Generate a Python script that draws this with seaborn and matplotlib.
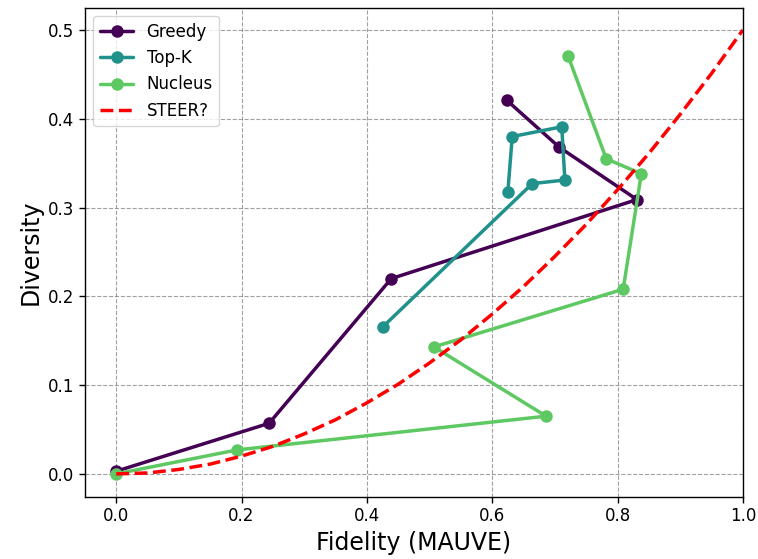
import matplotlib
matplotlib.use("Agg")
import matplotlib.pyplot as plt
import seaborn as sns
import pandas as pd

# values
greedy_x = [0.0, 0.244, 0.439, 0.831, 0.707, 0.623]
greedy_y = [0.003, 0.057, 0.220, 0.309, 0.368, 0.421]

topk_x = [0.426, 0.664, 0.716, 0.711, 0.632, 0.625]
topk_y = [0.166, 0.327, 0.331, 0.391, 0.380, 0.318]

nucleus_x = [0.0, 0.193, 0.686, 0.507, 0.809, 0.838, 0.782, 0.721]
nucleus_y = [0.0, 0.027, 0.065, 0.143, 0.208, 0.338, 0.355, 0.471]

steer_x = [0.0, 0.05, 0.1, 0.15, 0.2, 0.25, 0.3, 0.35, 0.4, 0.45, 0.5,
           0.55, 0.6, 0.65, 0.7, 0.75, 0.8, 0.85, 0.9, 0.95, 1.0]
steer_y = [0.0, 0.001, 0.005, 0.011, 0.020, 0.031, 0.045, 0.061, 0.080, 0.101, 0.125,
           0.151, 0.180, 0.211, 0.245, 0.281, 0.320, 0.361, 0.405, 0.451, 0.500]

sns.set_theme(style="ticks")
plt.rcParams['font.family'] = ['DejaVu Sans']
plt.rcParams['text.color'] = 'black'
plt.rcParams['axes.labelcolor'] = 'black'

fig, ax = plt.subplots(figsize=(7.58, 5.59), dpi=100)
fig.subplots_adjust(left=0.112, right=0.980, top=0.986, bottom=0.111)

series = [
    ("Greedy", greedy_x, greedy_y, "#440154"),
    ("Top-K", topk_x, topk_y, "#21918c"),
    ("Nucleus", nucleus_x, nucleus_y, "#5ec962"),
]
for name, xs, ys, col in series:
    d = pd.DataFrame({"x": xs, "y": ys})
    sns.lineplot(data=d, x="x", y="y", sort=False, ax=ax, color=col, label=name,
                 marker="o", markersize=9, markeredgewidth=0, linewidth=2.5)

steer = pd.DataFrame({"x": steer_x, "y": steer_y})
sns.lineplot(data=steer, x="x", y="y", ax=ax, color="red", linestyle="--",
             linewidth=2.5, label="STEER?")

ax.set_xlim(-0.05, 1.0)
ax.set_ylim(-0.026, 0.525)
ax.grid(True, linestyle="--", color="gray", alpha=0.75, linewidth=0.8)
for s in ax.spines.values():
    s.set_color("black")
    s.set_linewidth(1.0)
ax.tick_params(axis="both", labelsize=12, colors="black", length=4, width=1)
ax.set_xlabel("Fidelity (MAUVE)", fontsize=17, color="black")
ax.set_ylabel("Diversity", fontsize=17, color="black")
leg = ax.legend(loc="upper left", fontsize=12, frameon=True)
for t in leg.get_texts():
    t.set_color("black")

plt.savefig("out.png", dpi=100)
